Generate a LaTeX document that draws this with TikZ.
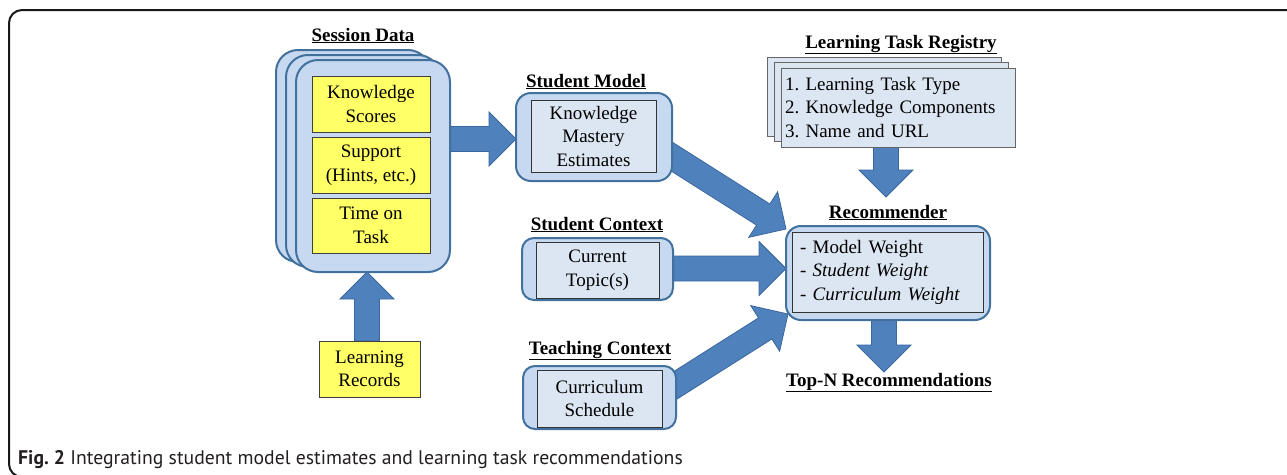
\documentclass[tikz,border=0pt]{standalone}
\usepackage{fontspec}
\setmainfont{Liberation Serif}
\newfontfamily\capfont{PT Sans}
\usetikzlibrary{calc}
\pgfdeclarelayer{bg}
\pgfsetlayers{bg,main}
\definecolor{boxfill}{HTML}{C6D9F1}
\definecolor{boxline}{HTML}{41719C}
\definecolor{innerfill}{HTML}{DCE6F2}
\definecolor{yel}{HTML}{FFFF66}
\definecolor{arrfill}{HTML}{4F81BD}
\definecolor{arrline}{HTML}{3A679E}
\definecolor{capcol}{HTML}{231F20}
\frenchspacing
\newcommand\msz{\fontsize{19}{23.5}\selectfont}
\newcommand\blockarrow[2]{%
  \path (#1); \pgfgetlastxy{\bax}{\bay}%
  \path (#2); \pgfgetlastxy{\bbx}{\bby}%
  \pgfmathsetmacro\baang{atan2(\bby-\bay,\bbx-\bax)}%
  \pgfmathsetmacro\balen{veclen(\bbx-\bax,\bby-\bay)}%
  \pgfmathsetmacro\babase{\balen-27}%
  \draw[blockarr, shift={(#1)}, rotate=\baang]
    (0pt,-12.5pt) -- (\babase pt,-12.5pt) -- (\babase pt,-27pt) -- (\balen pt,0pt)
    -- (\babase pt,27pt) -- (\babase pt,12.5pt) -- (0pt,12.5pt) -- cycle;
}
\begin{document}
\begin{tikzpicture}[x=1pt,y=-1pt,
  every node/.style={font=\msz},
  outerbox/.style={draw=boxline, line width=2pt, fill=boxfill, rounded corners=#1, inner sep=0pt},
  outerbox/.default=14,
  innerbox/.style={draw=black!80, line width=0.9pt, fill=innerfill, inner sep=0pt, align=center},
  yelbox/.style={draw=black!75, line width=0.9pt, fill=yel, inner sep=0pt, align=center},
  regbox/.style={draw=black!60, line width=0.9pt, fill=innerfill, inner sep=0pt},
  titletext/.style={font=\msz\bfseries, anchor=base, inner sep=0pt},
  blockarr/.style={fill=arrfill, draw=arrline, line width=0.8pt}]
\useasboundingbox (0,0) rectangle (1287,474);
% frame
\draw[line width=2pt, black!90, rounded corners=13] (1295,10) -- (9,10) -- (9,477) -- (60,477);

% Session data
\node[titletext] (tsess) at (363,41) {\underline{Session Data}};
\node[outerbox=22, minimum width=154, minimum height=212] (s1) at (353,156) {};
\node[outerbox=22, minimum width=154, minimum height=212] (s2) at (363,161) {};
\node[outerbox=22, minimum width=154, minimum height=212] (s3) at (373,166) {};
\node[yelbox, minimum width=118, minimum height=56] (ks) at (371,104) {Knowledge\\Scores};
\node[yelbox, minimum width=118, minimum height=56] (sup) at (371,165) {Support\\(Hints, etc.)};
\node[yelbox, minimum width=118, minimum height=55] (tot) at (371,225.5) {Time on\\Task};
\node[yelbox, minimum width=101, minimum height=56] (lr) at (369.5,369) {Learning\\Records};

% Student model
\node[titletext] (tsm) at (586,87) {\underline{Student Model}};
\node[outerbox=15, minimum width=156, minimum height=88] (sm) at (594,137) {};
\node[innerbox, minimum width=125, minimum height=72] (smi) at (593.5,136) {Knowledge\\Mastery\\Estimates};

% Student context
\node[titletext] (tsc) at (597,230) {\underline{Student Context}};
\node[outerbox=12, minimum width=151, minimum height=62] (sc) at (597.5,269) {};
\node[innerbox, minimum width=123, minimum height=56] (sci) at (597.5,270) {Current\\Topic(s)};

% Teaching context
\node[titletext] (ttc) at (600,354) {\underline{Teaching Context}};
\node[outerbox=12, minimum width=153, minimum height=63] (tc) at (599.5,397.5) {};
\node[innerbox, minimum width=125, minimum height=57] (tci) at (599.5,398.5) {Curriculum\\Schedule};

% Learning task registry
\node[titletext] (treg) at (901,48) {\underline{Learning Task Registry}};
\node[regbox, minimum width=234, minimum height=79] (r1) at (884,96.5) {};
\node[regbox, minimum width=234, minimum height=79] (r2) at (891,102) {};
\node[regbox, minimum width=234, minimum height=79, text width=226, inner xsep=4pt, align=left] (r3) at (898,107.5)
  {1. Learning Task Type\\2. Knowledge Components\\3. Name and URL};

% Recommender
\node[titletext] (trec) at (888,218) {\underline{Recommender}};
\node[outerbox=15, minimum width=204, minimum height=94] (rec) at (888,273) {};
\node[innerbox, minimum width=191, minimum height=80, text width=175, inner xsep=8pt, align=left] (reci) at (887.5,272)
  {- Model Weight\\- \textit{Student Weight}\\- \textit{Curriculum Weight}};

\node[titletext] (topn) at (889,386) {\underline{Top-N Recommendations}};

% arrow end points
\coordinate (a1s) at (445,139);  \coordinate (a1e) at (516,139);
\coordinate (a2s) at (367,341);  \coordinate (a2e) at (367,272);
\coordinate (a3s) at (655,146);  \coordinate (a3e) at (786,229);
\coordinate (a4s) at (665,268.5);  \coordinate (a4e) at (786,268.5);
\coordinate (a5s) at (660,395);  \coordinate (a5e) at (788,314);
\coordinate (a6s) at (886,140);  \coordinate (a6e) at (886,197);
\coordinate (a7s) at (884,318);  \coordinate (a7e) at (884,372);

\begin{pgfonlayer}{bg}
\blockarrow{a1s}{a1e}
\blockarrow{a2s}{a2e}
\blockarrow{a3s}{a3e}
\blockarrow{a4s}{a4e}
\blockarrow{a5s}{a5e}
\blockarrow{a6s}{a6e}
\blockarrow{a7s}{a7e}
\end{pgfonlayer}

% caption
\node[anchor=base west, inner sep=0pt, text=capcol, font=\capfont\fontsize{19.7}{22}\selectfont] (cap) at (18,464)
  {\textbf{Fig. 2} Integrating student model estimates and learning task recommendations};
\end{tikzpicture}
\end{document}
